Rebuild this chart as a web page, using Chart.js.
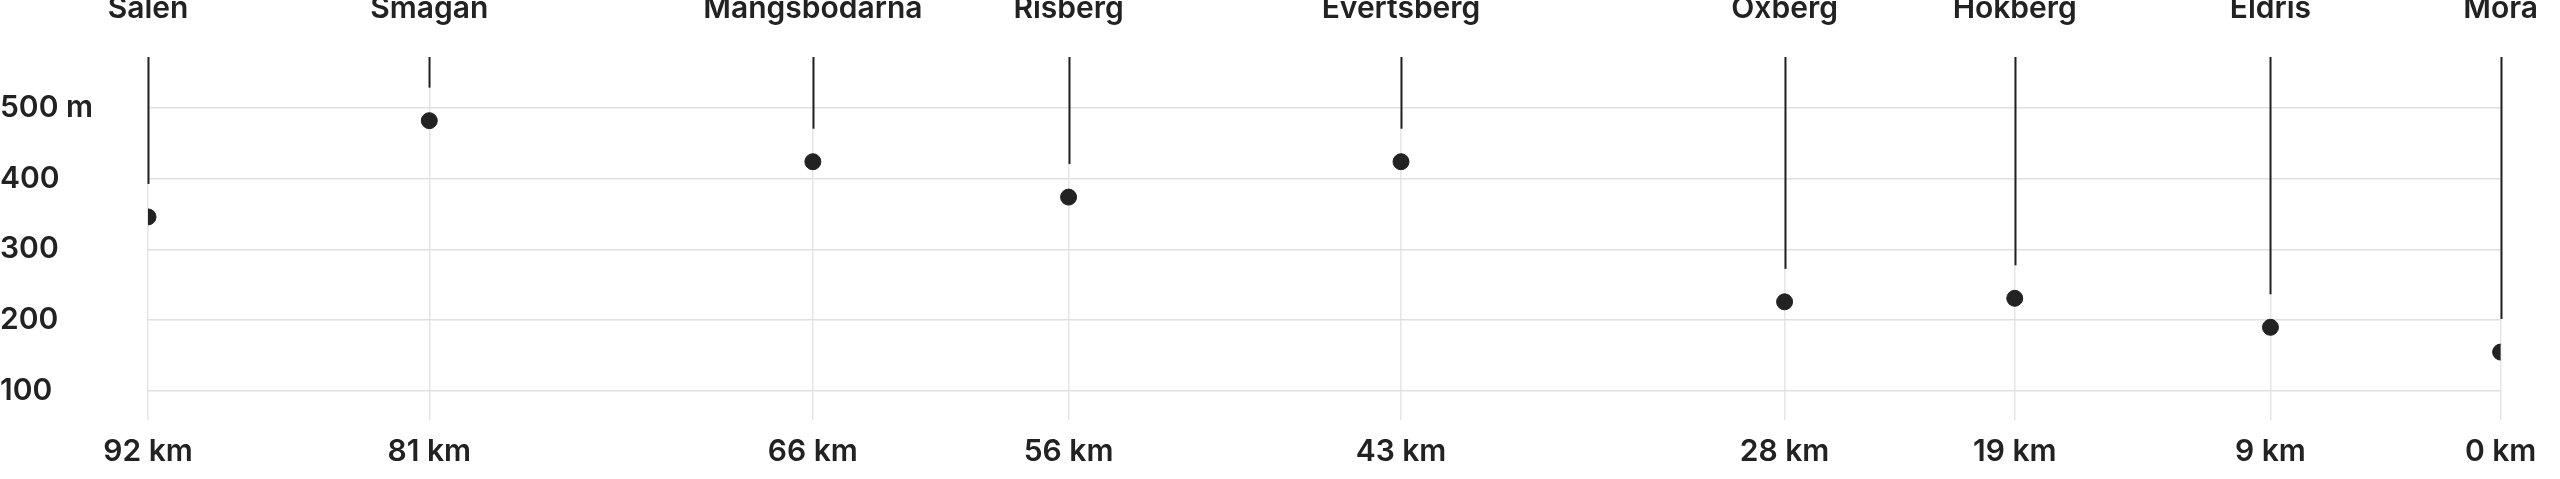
<!DOCTYPE html>
<html>
<head>
<meta charset="utf-8">
<script src="https://cdn.jsdelivr.net/npm/chart.js@4.4.1/dist/chart.umd.min.js"></script>
<style>
    html, body { margin: 0; padding: 0; background: #fff; }
    #wrap { width: 2560px; height: 479px; }
</style>
</head>
<body>
<div id="wrap"><canvas id="profileChart"></canvas></div>
<script>
// Vasaloppet-profil: kontroller, km kvar till mål, höjd (m)
const stations = ['Sälen', 'Smågan', 'Mångsbodarna', 'Risberg', 'Evertsberg', 'Oxberg', 'Hökberg', 'Eldris', 'Mora'];
const kmLeft = [92, 81, 66, 56, 43, 28, 19, 9, 0];
const elevation = [346, 482, 424, 374, 424, 226, 231, 190, 155];
const yTicks = [100, 200, 300, 400, 500];

const font = { family: "Inter, 'Noto Sans', sans-serif", size: 30, weight: '600' };
const ink = '#222222';

// Svarta linjer från toppen ned mot varje punkt
const stemPlugin = {
    id: 'stems',
    afterDatasetsDraw(chart) {
        const { ctx, chartArea } = chart;
        const x = chart.scales.x, y = chart.scales.y;
        ctx.save();
        ctx.strokeStyle = ink;
        ctx.lineWidth = 2;
        kmLeft.forEach((km, i) => {
            const px = Math.round(x.getPixelForValue(km)) + 0.5;
            const py = y.getPixelForValue(elevation[i]) - 33;
            ctx.beginPath();
            ctx.moveTo(px, chartArea.top);
            ctx.lineTo(px, py);
            ctx.stroke();
        });
        ctx.restore();
    }
};

const stationTicks = scale => { scale.ticks = kmLeft.map(v => ({ value: v })); };

new Chart(document.getElementById('profileChart').getContext('2d'), {
    type: 'scatter',
    data: {
        datasets: [{
            data: kmLeft.map((km, i) => ({ x: km, y: elevation[i] })),
            backgroundColor: ink,
            borderColor: ink,
            pointRadius: 8,
            pointHoverRadius: 8
        }]
    },
    options: {
        responsive: true,
        maintainAspectRatio: false,
        animation: false,
        layout: { padding: { right: 45, left: 0, top: 0, bottom: 0 } },
        plugins: { legend: { display: false }, tooltip: { enabled: false } },
        scales: {
            x: {
                type: 'linear',
                reverse: true,
                min: 0,
                max: 92,
                afterBuildTicks: stationTicks,
                afterFit: s => { s.height = 59; },
                grid: { color: '#e6e6e6', lineWidth: 1.5, drawTicks: false },
                border: { display: false },
                ticks: { color: ink, font, padding: 14, autoSkip: false, maxRotation: 0, callback: v => v + ' km' }
            },
            top: {
                type: 'linear',
                position: 'top',
                reverse: true,
                min: 0,
                max: 92,
                afterBuildTicks: stationTicks,
                afterFit: s => { s.height = 57; },
                grid: { display: false },
                border: { display: false },
                ticks: { color: ink, font, padding: 22, autoSkip: false, maxRotation: 0,
                    callback: v => stations[kmLeft.indexOf(v)] }
            },
            y: {
                min: 59,
                max: 572,
                afterBuildTicks: s => { s.ticks = yTicks.map(v => ({ value: v })); },
                afterFit: s => { s.width = 148; },
                grid: { color: '#e0e0e0', lineWidth: 1.5, drawTicks: false },
                border: { display: false },
                ticks: { color: ink, font, padding: 0, crossAlign: 'far', callback: v => v === 500 ? '500 m' : String(v) }
            }
        }
    },
    plugins: [stemPlugin]
});
</script>
</body>
</html>
